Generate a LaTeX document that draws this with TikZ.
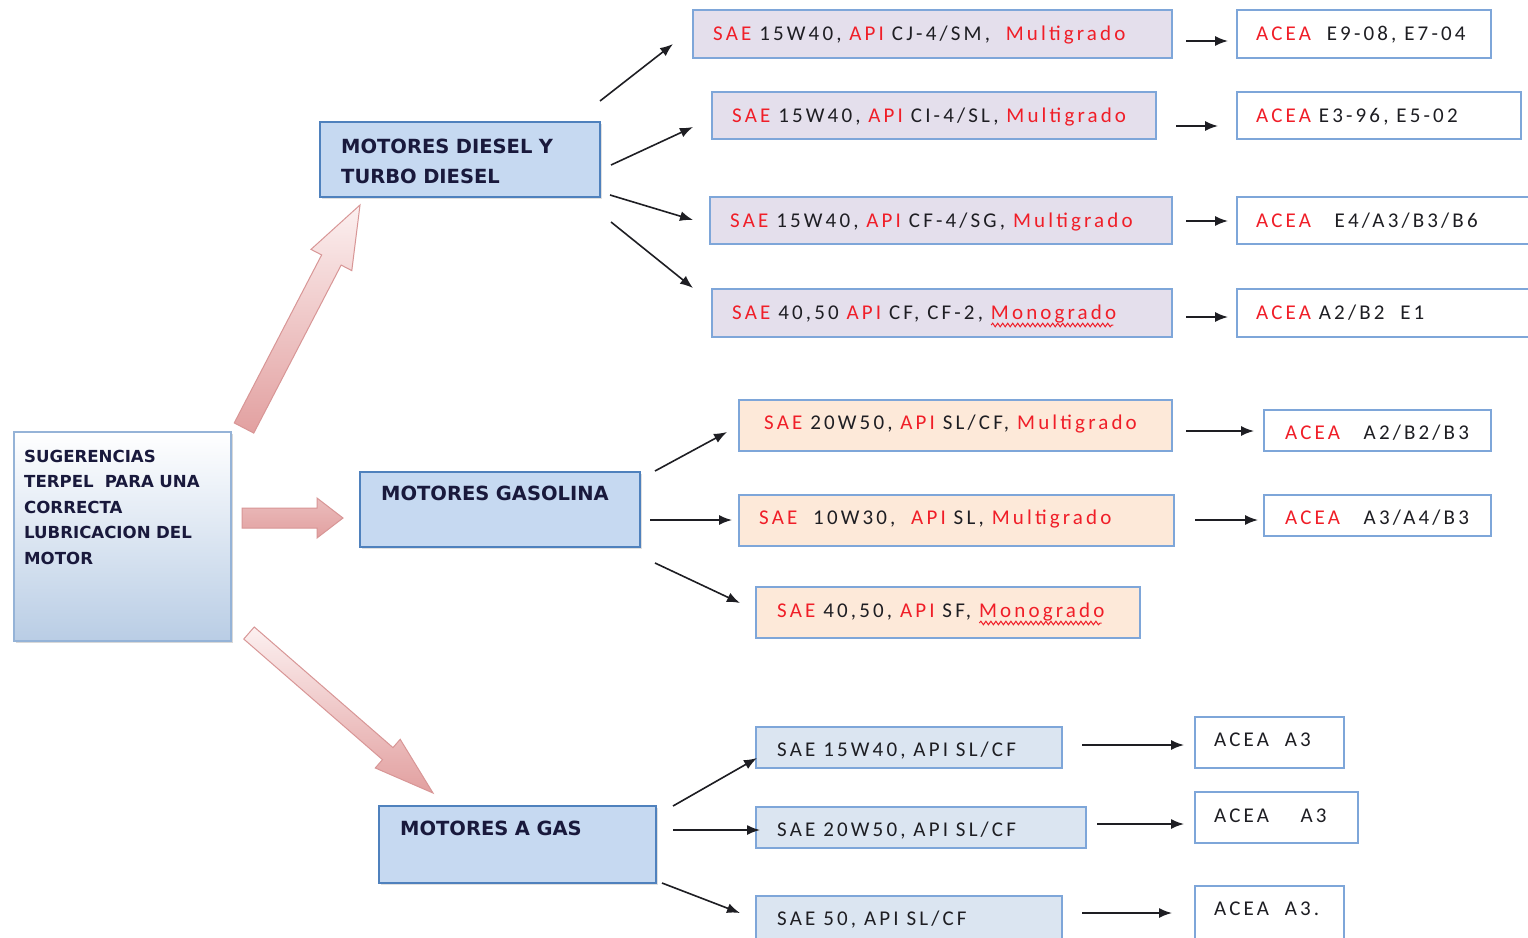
\documentclass[tikz,border=0pt]{standalone}
\usepackage{fontspec}
\setmainfont{Carlito}
\newfontfamily\headfont{DejaVu Sans}
\newfontfamily\boxfont{Carlito}[LetterSpace=15]
\usetikzlibrary{calc,arrows.meta,shadows,decorations.pathmorphing}

\definecolor{sred}{RGB}{240,30,40}
\definecolor{ink}{RGB}{30,30,35}
\definecolor{headink}{RGB}{25,25,60}
\definecolor{hdfill}{RGB}{198,217,241}
\definecolor{hdline}{RGB}{79,129,189}
\definecolor{subline}{RGB}{126,166,217}
\definecolor{lavfill}{RGB}{228,223,236}
\definecolor{peachfill}{RGB}{253,233,217}
\definecolor{bluefill}{RGB}{219,229,241}
\definecolor{mainbot}{RGB}{185,205,229}
\definecolor{mainline}{RGB}{149,179,215}
\definecolor{pinkdark}{RGB}{226,160,160}
\definecolor{pinklight}{RGB}{252,240,240}
\definecolor{pinkline}{RGB}{216,150,150}

% block arrow: tail, tip, shaft half width, head half width, head length, style
\newcommand\bigarrow[6]{%
  \coordinate (bb) at ($(#2)!#5!(#1)$);
  \path[#6] ($(#1)!#3!90:(#2)$) -- ($(bb)!#3!-90:(#1)$) -- ($(bb)!#4!-90:(#1)$)
    -- (#2) -- ($(bb)!#4!90:(#1)$) -- ($(bb)!#3!90:(#1)$)
    -- ($(#1)!#3!-90:(#2)$) -- cycle;}

\newcommand\gradefont{\boxfont\fontsize{21}{25}\selectfont}
\newlength\monow

\begin{document}
\settowidth\monow{\gradefont Monogrado}%
\begin{tikzpicture}[x=1pt,y=-1pt,
  box/.style={anchor=north west, inner sep=0pt, outer sep=0pt},
  headbox/.style={box, draw=hdline, line width=2.2pt, fill=hdfill,
    drop shadow={shadow xshift=2pt, shadow yshift=-2pt, opacity=0.25}},
  dieselbox/.style={box, draw=subline, line width=1.3pt, fill=lavfill},
  gasobox/.style={box, draw=subline, line width=1.3pt, fill=peachfill},
  gasbox/.style={box, draw=subline, line width=1.3pt, fill=bluefill},
  aceabox/.style={box, draw=subline, line width=1.3pt, fill=white},
  headtxt/.style={anchor=base west, inner sep=0pt, text width=300pt, align=left,
    font=\headfont\bfseries\fontsize{19.5}{30}\selectfont, text=headink},
  txt/.style={anchor=base west, inner sep=0pt, font=\gradefont, text=ink},
  link/.style={-{Latex[length=13pt,width=10pt]}, line width=1.6pt, draw=ink},
  wave/.style={draw=sred, line width=1pt, decorate,
    decoration={snake, amplitude=1.8pt, segment length=5pt}}
]
\useasboundingbox (0,0) rectangle (1528,937);
\fill[white] (0,0) rectangle (1528,937);

% ---------- start box ----------
\node[box, draw=mainline, line width=1.5pt, top color=white, bottom color=mainbot,
  minimum width=217pt, minimum height=209pt,
  drop shadow={shadow xshift=2pt, shadow yshift=-2pt, opacity=0.3}] (main) at (14,432) {};
\node[anchor=base west, inner sep=0pt, text width=210pt, align=left,
  font=\headfont\bfseries\fontsize{16.6}{25.5}\selectfont, text=headink] (mainT)
  at ($(main.north west)+(10,30)$)
  {SUGERENCIAS\\TERPEL\ \ PARA UNA\\CORRECTA\\LUBRICACION DEL\\MOTOR};

% ---------- engine boxes ----------
\node[headbox, minimum width=280pt, minimum height=75pt] (dz) at (320,122) {};
\node[headtxt] (dzT) at ($(dz.north west)+(21,31)$) {MOTORES DIESEL Y\\TURBO DIESEL};

\node[headbox, minimum width=280pt, minimum height=75pt] (gz) at (360,472) {};
\node[headtxt] (gzT) at ($(gz.north west)+(21,28)$) {MOTORES GASOLINA};

\node[headbox, minimum width=277pt, minimum height=77pt] (sz) at (379,806) {};
\node[headtxt] (szT) at ($(sz.north west)+(21,29)$) {MOTORES A GAS};

% ---------- block arrows ----------
\coordinate (upTail) at ($(main.north east)+(13,-4)$);
\coordinate (upTip) at ($(dz.south west)+(40,8)$);
\coordinate (rtTail) at ($(main.north east)+(11,86)$);
\coordinate (rtTip) at ($(gz.south west)+(-17,-29)$);
\coordinate (dnTail) at ($(main.north east)+(18,201)$);
\coordinate (dnTip) at ($(sz.north west)+(54,-13)$);
\bigarrow{upTail}{upTip}{11pt}{23pt}{62pt}{draw=pinkline, line width=1pt, top color=pinklight, bottom color=pinkdark}
\bigarrow{rtTail}{rtTip}{10pt}{20pt}{26pt}{draw=pinkline, line width=1pt, top color=pinkdark!70, middle color=pinklight, bottom color=pinkdark}
\bigarrow{dnTail}{dnTip}{8pt}{19pt}{60pt}{draw=pinkline, line width=1pt, top color=pinklight, bottom color=pinkdark}

% ---------- diesel grades ----------
\node[dieselbox, minimum width=479pt, minimum height=48pt] (d1) at (693,10) {};
\node[txt] (d1T) at ($(d1.west)+(20,6.5)$) {\textcolor{sred}{SAE} 15W40, \textcolor{sred}{API} CJ-4/SM,~ \textcolor{sred}{Multigrado}};
\node[dieselbox, minimum width=444pt, minimum height=47pt] (d2) at (712,92) {};
\node[txt] (d2T) at ($(d2.west)+(20,6.5)$) {\textcolor{sred}{SAE} 15W40, \textcolor{sred}{API} CI-4/SL, \textcolor{sred}{Multigrado}};
\node[dieselbox, minimum width=462pt, minimum height=47pt] (d3) at (710,197) {};
\node[txt] (d3T) at ($(d3.west)+(20,6.5)$) {\textcolor{sred}{SAE} 15W40, \textcolor{sred}{API} CF-4/SG, \textcolor{sred}{Multigrado}};
\node[dieselbox, minimum width=460pt, minimum height=48pt] (d4) at (712,289) {};
\node[txt] (d4T) at ($(d4.west)+(20,6.5)$) {\textcolor{sred}{SAE} 40,50 \textcolor{sred}{API} CF, CF-2, \textcolor{sred}{Monogrado}};

\node[aceabox, minimum width=254pt, minimum height=48pt] (dA1) at (1237,10) {};
\node[txt] (dA1T) at ($(dA1.west)+(19,6.5)$) {\textcolor{sred}{ACEA}~ E9-08, E7-04};
\node[aceabox, minimum width=284pt, minimum height=47pt] (dA2) at (1237,92) {};
\node[txt] (dA2T) at ($(dA2.west)+(19,6.5)$) {\textcolor{sred}{ACEA} E3-96, E5-02};
\node[aceabox, minimum width=300pt, minimum height=47pt] (dA3) at (1237,197) {};
\node[txt] (dA3T) at ($(dA3.west)+(19,6.5)$) {\textcolor{sred}{ACEA}~~ E4/A3/B3/B6};
\node[aceabox, minimum width=300pt, minimum height=48pt] (dA4) at (1237,289) {};
\node[txt] (dA4T) at ($(dA4.west)+(19,6.5)$) {\textcolor{sred}{ACEA} A2/B2~ E1};

% ---------- gasoline grades ----------
\node[gasobox, minimum width=433pt, minimum height=51pt] (g1) at (739,400) {};
\node[txt] (g1T) at ($(g1.west)+(25,4)$) {\textcolor{sred}{SAE} 20W50, \textcolor{sred}{API} SL/CF, \textcolor{sred}{Multigrado}};
\node[gasobox, minimum width=435pt, minimum height=51pt] (g2) at (739,495) {};
\node[txt] (g2T) at ($(g2.west)+(20,4)$) {\textcolor{sred}{SAE}~ 10W30,~ \textcolor{sred}{API} SL, \textcolor{sred}{Multigrado}};
\node[gasobox, minimum width=384pt, minimum height=51pt] (g3) at (756,587) {};
\node[txt] (g3T) at ($(g3.west)+(21,5)$) {\textcolor{sred}{SAE} 40,50, \textcolor{sred}{API} SF, \textcolor{sred}{Monogrado}};

\node[aceabox, minimum width=227pt, minimum height=41pt] (gA1) at (1264,410) {};
\node[txt] (gA1T) at ($(gA1.west)+(21,9)$) {\textcolor{sred}{ACEA}~~ A2/B2/B3};
\node[aceabox, minimum width=227pt, minimum height=41pt] (gA2) at (1264,495) {};
\node[txt] (gA2T) at ($(gA2.west)+(21,9)$) {\textcolor{sred}{ACEA}~~ A3/A4/B3};

% ---------- gas grades ----------
\node[gasbox, minimum width=306pt, minimum height=41pt] (s1) at (756,727) {};
\node[txt] (s1T) at ($(s1.west)+(21,9)$) {SAE 15W40, API SL/CF};
\node[gasbox, minimum width=330pt, minimum height=41pt] (s2) at (756,807) {};
\node[txt] (s2T) at ($(s2.west)+(21,9)$) {SAE 20W50, API SL/CF};
\node[gasbox, minimum width=306pt, minimum height=50pt] (s3) at (756,896) {};
\node[txt] (s3T) at ($(s3.north west)+(21,29)$) {SAE 50, API SL/CF};

\node[aceabox, minimum width=149pt, minimum height=51pt] (sA1) at (1195,717) {};
\node[txt] (sA1T) at ($(sA1.west)+(19,3.5)$) {ACEA~ A3};
\node[aceabox, minimum width=163pt, minimum height=51pt] (sA2) at (1195,792) {};
\node[txt] (sA2T) at ($(sA2.west)+(19,5)$) {ACEA~~~ A3};
\node[aceabox, minimum width=149pt, minimum height=60pt] (sA3) at (1195,886) {};
\node[txt] (sA3T) at ($(sA3.north west)+(19,29)$) {ACEA~ A3.};

% ---------- spell-check waves under "Monogrado" ----------
\draw[wave] ($(d4T.base east)+(-\monow,5.5)$) -- ($(d4T.base east)+(-3,5.5)$);
\draw[wave] ($(g3T.base east)+(-\monow,5.5)$) -- ($(g3T.base east)+(-3,5.5)$);

% ---------- connectors ----------
\draw[link] ($(dz.north east)+(0,-21)$) -- ($(d1.north west)+(-20,34)$);
\draw[link] ($(dz.north east)+(11,43)$) -- ($(d2.north west)+(-19,35)$);
\draw[link] ($(dz.north east)+(10,73)$) -- ($(d3.north west)+(-17,23)$);
\draw[link] ($(dz.north east)+(11,100)$) -- ($(d4.north west)+(-19,-1)$);

\draw[link] ($(d1.north east)+(14,31)$) -- ($(dA1.north west)+(-9,31)$);
\draw[link] ($(d2.north east)+(20,34)$) -- ($(dA2.north west)+(-19,34)$);
\draw[link] ($(d3.north east)+(14,24)$) -- ($(dA3.north west)+(-9,24)$);
\draw[link] ($(d4.north east)+(14,28)$) -- ($(dA4.north west)+(-9,28)$);

\draw[link] ($(gz.north east)+(15,-1)$) -- ($(g1.north west)+(-12,32)$);
\draw[link] ($(gz.north east)+(10,48)$) -- ($(g2.north west)+(-7,25)$);
\draw[link] ($(gz.north east)+(15,91)$) -- ($(g3.north west)+(-16,16)$);

\draw[link] ($(g1.north east)+(14,31)$) -- ($(gA1.north west)+(-10,21)$);
\draw[link] ($(g2.north east)+(21,25)$) -- ($(gA2.north west)+(-6,25)$);

\draw[link] ($(sz.north east)+(17,0)$) -- ($(s1.north west)+(1,31)$);
\draw[link] ($(sz.north east)+(17,24)$) -- ($(s2.north west)+(4,23)$);
\draw[link] ($(sz.north east)+(6,77)$) -- ($(s3.north west)+(-16,17)$);

\draw[link] ($(s1.north east)+(20,18)$) -- ($(sA1.north west)+(-11,28)$);
\draw[link] ($(s2.north east)+(11,17)$) -- ($(sA2.north west)+(-11,32)$);
\draw[link] ($(s3.north east)+(20,17)$) -- ($(sA3.north west)+(-23,27)$);
\end{tikzpicture}
\end{document}
